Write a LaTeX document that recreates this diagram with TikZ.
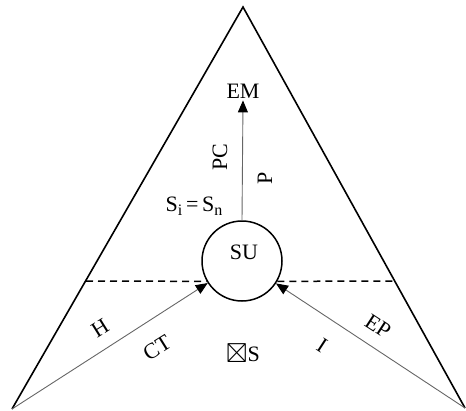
\documentclass[tikz,border=0pt]{standalone}
\usepackage{fontspec}
\setmainfont{Liberation Serif}
\usepackage{amssymb}
\usepackage{graphicx}
\usetikzlibrary{arrows.meta}
\begin{document}
\begin{tikzpicture}[x=1pt,y=-1pt,
  every node/.style={font=\fontsize{22}{25}\selectfont, inner sep=1pt},
  side/.style={line width=1.6pt, line join=miter},
  flow/.style={line width=0.9pt, draw=black!60, -{Triangle[length=12pt,width=10pt,color=black]}},
  divider/.style={line width=1.5pt, dash pattern=on 7pt off 5pt}]
\useasboundingbox (0,0) rectangle (466,410);
\coordinate (apex) at (243,7);
\coordinate (bl) at (12,409);
\coordinate (br) at (465,408);
\draw[side] (bl) -- (apex) -- (br);
\node[circle, draw, line width=1.5pt, minimum size=80pt, inner sep=0pt] (su) at (242,261) {};
\node (sut) at (244,252) {SU};
\node[inner sep=2pt] (em) at (243,91) {EM};
\coordinate (dl) at (86,281);
\coordinate (dr) at (393,281);
\draw[divider] (dl) -- (su.210);
\draw[divider] (su.-30) -- (dr);
\draw[flow] (su.north) -- (em.south);
\draw[flow] (bl) -- (su);
\draw[flow] (br) -- (su);
\node[rotate=90] (pc) at (220,157) {PC};
\node[rotate=90] (p) at (265,178) {P};
\node (sisn) at (194,206) {S\raisebox{-0.35ex}{\fontsize{16}{18}\selectfont i}\,=\,S\raisebox{-0.35ex}{\fontsize{16}{18}\selectfont n}};
\node[rotate=32] (h) at (100,328) {H};
\node[rotate=32] (ct) at (157,348) {CT};
\node[rotate=-33] (i) at (322,345) {I};
\node[rotate=-33] (ep) at (378,326) {EP};
\node (s) at (243,353) {\raisebox{-0.05ex}{\scalebox{1.25}{$\boxtimes$}}S};
\end{tikzpicture}
\end{document}
